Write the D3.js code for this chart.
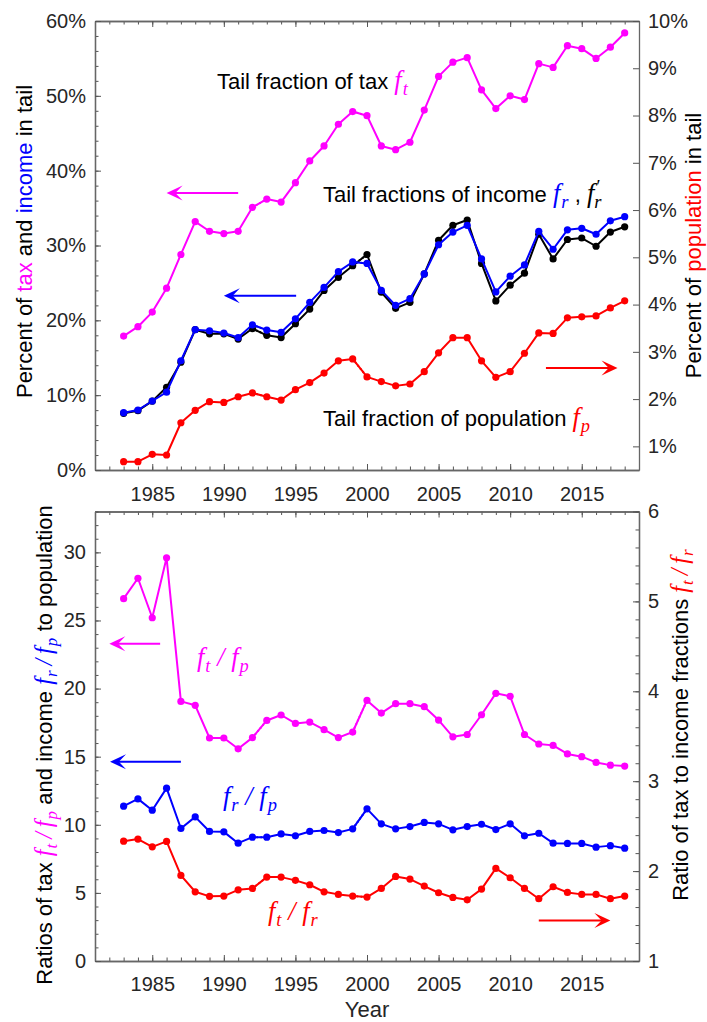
<!DOCTYPE html>
<html>
<head>
<meta charset="utf-8">
<script src="https://cdn.jsdelivr.net/npm/d3@7"></script>
<style>
  body { margin: 0; background: #fff; }
  text { font-family: "Liberation Sans", Arial, sans-serif; fill: #262626; }
  .math { font-family: "Liberation Serif", "Times New Roman", serif; font-style: italic; }
</style>
</head>
<body>
<svg></svg>
<script>
// chart data
const years = d3.range(1983, 2019);
const dottedFrom = [1992, 1999];   // links drawn dotted: 1992-1993 and 1999-2000

// top panel, percent
const fracTax = [17.9, 19.15, 21.1, 24.3, 28.8, 33.2, 31.9, 31.6, 31.9, 35.1, 36.2, 35.8, 38.4, 41.3, 43.3, 46.2, 47.9, 47.35,
  43.3, 42.8, 43.8, 48.1, 52.6, 54.5, 55.1, 50.8, 48.3, 50.0, 49.5, 54.3, 53.8, 56.7, 56.3, 55.0, 56.5, 58.4];
const fracIncome = [7.66, 8.02, 9.22, 10.4, 14.6, 18.75, 18.6, 18.3, 17.7, 19.4, 18.7, 18.4, 20.2, 22.4, 24.4, 26.5, 27.8, 27.6,
  24.0, 22.0, 22.9, 26.2, 30.1, 31.8, 32.7, 28.2, 23.8, 25.9, 27.4, 31.9, 29.5, 32.1, 32.3, 31.5, 33.3, 33.85];
const fracIncome2 = [7.57, 7.93, 9.2, 11.05, 14.4, 18.75, 18.2, 18.2, 17.5, 18.9, 18.0, 17.7, 19.55, 21.5, 24.0, 25.75, 27.3, 28.8,
  23.75, 21.6, 22.4, 26.2, 30.7, 32.7, 33.4, 27.6, 22.6, 24.7, 26.3, 31.5, 28.2, 30.8, 31.0, 29.9, 31.8, 32.5];
const fracPop = [0.676, 0.676, 0.832, 0.817, 1.50, 1.763, 1.945, 1.93, 2.05, 2.13, 2.05, 1.98, 2.20, 2.35, 2.55, 2.81, 2.85, 2.47,
  2.37, 2.28, 2.32, 2.58, 2.98, 3.30, 3.30, 2.81, 2.46, 2.58, 2.97, 3.40, 3.39, 3.72, 3.74, 3.76, 3.93, 4.08];

// bottom panel, ratios
const ratioTaxPop = [26.6, 28.1, 25.2, 29.6, 19.06, 18.77, 16.37, 16.37, 15.58, 16.4, 17.66, 18.06, 17.44, 17.54, 16.98, 16.4, 16.81, 19.13,
  18.2, 18.89, 18.89, 18.67, 17.69, 16.46, 16.63, 18.08, 19.65, 19.43, 16.63, 15.93, 15.83, 15.2, 15.0, 14.58, 14.38, 14.31];
const ratioIncPop = [11.37, 11.9, 11.07, 12.69, 9.73, 10.58, 9.51, 9.48, 8.65, 9.09, 9.09, 9.33, 9.19, 9.51, 9.58, 9.43, 9.7, 11.17,
  10.07, 9.7, 9.87, 10.17, 10.07, 9.63, 9.87, 10.04, 9.65, 10.07, 9.19, 9.38, 8.65, 8.63, 8.63, 8.36, 8.47, 8.28];
const ratioTaxInc = [2.333, 2.356, 2.27, 2.33, 1.952, 1.77, 1.719, 1.722, 1.792, 1.807, 1.933, 1.933, 1.897, 1.848, 1.77, 1.741, 1.722, 1.711,
  1.807, 1.941, 1.911, 1.833, 1.759, 1.707, 1.681, 1.8, 2.03, 1.926, 1.807, 1.693, 1.826, 1.763, 1.741, 1.741, 1.693, 1.722];

const xTicks = [1985, 1990, 1995, 2000, 2005, 2010, 2015];
const topLeftTicks = [0, 10, 20, 30, 40, 50, 60];
const topRightTicks = [1, 2, 3, 4, 5, 6, 7, 8, 9, 10];
const botLeftTicks = [0, 5, 10, 15, 20, 25, 30];
const botRightTicks = [1, 2, 3, 4, 5, 6];

const MAGENTA = "#ff00ff", BLUE = "#0000ff", RED = "#ff0000", BLACK = "#000000";

let width = 707, height = 1022;
const svg = d3.select("svg").attr("width", width).attr("height", height);

const left = 95, right = 639;
const x = d3.scaleLinear().domain([1981, 2019]).range([left, right]);

const panels = [
  { top: 21, bottom: 470, ldom: [0, 60], rdom: [0.5, 10] },
  { top: 511.5, bottom: 961, ldom: [0, 33], rdom: [1, 6] }
];
panels.forEach(p => {
  p.yl = d3.scaleLinear().domain(p.ldom).range([p.bottom, p.top]);
  p.yr = d3.scaleLinear().domain(p.rdom).range([p.bottom, p.top]);
});
const P1 = panels[0], P2 = panels[1];

// axes
function styleAxis(g) {
  g.select(".domain").attr("stroke", "#666").attr("stroke-width", 1.3);
  g.selectAll(".tick line").attr("stroke", "#555").attr("stroke-width", 1);
  g.selectAll("text").attr("fill", "#262626").attr("font-size", 20)
    .attr("font-family", "Liberation Sans, Arial, sans-serif");
}

function drawFrame(p, opt) {
  const minorYears = d3.range(1981, 2020);
  // bottom
  svg.append("g").attr("transform", `translate(0,${p.bottom})`)
    .call(d3.axisBottom(x).tickValues(minorYears).tickSize(-3.5).tickSizeOuter(0).tickFormat(""))
    .call(styleAxis);
  svg.append("g").attr("transform", `translate(0,${p.bottom})`)
    .call(d3.axisBottom(x).tickValues(xTicks).tickSize(-6).tickSizeOuter(0).tickPadding(opt.xpad).tickFormat(d3.format("d")))
    .call(styleAxis);
  // top
  svg.append("g").attr("transform", `translate(0,${p.top})`)
    .call(d3.axisTop(x).tickValues(minorYears).tickSize(-3.5).tickSizeOuter(0).tickFormat(""))
    .call(styleAxis);
  svg.append("g").attr("transform", `translate(0,${p.top})`)
    .call(d3.axisTop(x).tickValues(xTicks).tickSize(-6).tickSizeOuter(0).tickFormat(""))
    .call(styleAxis);
  // left
  svg.append("g").attr("transform", `translate(${left},0)`)
    .call(d3.axisLeft(p.yl).tickValues(opt.lMinor).tickSize(-3.5).tickSizeOuter(0).tickFormat(""))
    .call(styleAxis);
  svg.append("g").attr("transform", `translate(${left},0)`)
    .call(d3.axisLeft(p.yl).tickValues(opt.lTicks).tickSize(-6).tickSizeOuter(0).tickPadding(9).tickFormat(opt.lFmt))
    .call(styleAxis);
  // right
  if (opt.rMinor) {
    svg.append("g").attr("transform", `translate(${right},0)`)
      .call(d3.axisRight(p.yr).tickValues(opt.rMinor).tickSize(-3.5).tickSizeOuter(0).tickFormat(""))
      .call(styleAxis);
  }
  svg.append("g").attr("transform", `translate(${right},0)`)
    .call(d3.axisRight(p.yr).tickValues(opt.rTicks).tickSize(-6).tickSizeOuter(0).tickPadding(9).tickFormat(opt.rFmt))
    .call(styleAxis);
}

drawFrame(P1, {
  xpad: 17,
  lMinor: d3.range(0, 61, 2), lTicks: topLeftTicks, lFmt: d => d + "%",
  rMinor: null, rTicks: topRightTicks, rFmt: d => d + "%"
});
drawFrame(P2, {
  xpad: 16,
  lMinor: d3.range(0, 34, 1), lTicks: botLeftTicks, lFmt: d3.format("d"),
  rMinor: d3.range(1, 6.01, 0.2), rTicks: botRightTicks, rFmt: d3.format("d")
});

// series with dotted links at the data breaks
function drawSeries(yScale, values, color) {
  const pts = years.map((yr, i) => [x(yr), yScale(values[i]), yr]);
  const line = d3.line();
  let run = [];
  const runs = [];
  pts.forEach((pt, i) => {
    run.push(pt);
    if (dottedFrom.includes(pt[2]) || i === pts.length - 1) { runs.push(run); run = [pt]; }
  });
  runs.forEach(r => {
    if (r.length > 1) svg.append("path").attr("d", line(r.map(d => [d[0], d[1]])))
      .attr("fill", "none").attr("stroke", color).attr("stroke-width", 2).attr("stroke-linejoin", "round");
  });
  pts.forEach((pt, i) => {
    if (dottedFrom.includes(pt[2]) && i < pts.length - 1) {
      svg.append("path").attr("d", line([[pt[0], pt[1]], [pts[i + 1][0], pts[i + 1][1]]]))
        .attr("fill", "none").attr("stroke", color).attr("stroke-width", 2)
        .attr("stroke-dasharray", "1.5,2.5");
    }
  });
  svg.append("g").selectAll("circle").data(pts).enter().append("circle")
    .attr("cx", d => d[0]).attr("cy", d => d[1]).attr("r", 3.6).attr("fill", color);
}

drawSeries(P1.yl, fracTax, MAGENTA);
drawSeries(P1.yl, fracIncome2, BLACK);
drawSeries(P1.yl, fracIncome, BLUE);
drawSeries(P1.yr, fracPop, RED);

drawSeries(P2.yl, ratioTaxPop, MAGENTA);
drawSeries(P2.yl, ratioIncPop, BLUE);
drawSeries(P2.yr, ratioTaxInc, RED);

// arrows pointing to the axis each series uses
function arrow(x0, x1, y, color) {
  const dir = Math.sign(x1 - x0);
  const L = 16, W = 7.5;
  svg.append("line").attr("x1", x0).attr("x2", x1 - dir * 8).attr("y1", y).attr("y2", y)
    .attr("stroke", color).attr("stroke-width", 2);
  svg.append("path")
    .attr("d", `M${x1},${y} L${x1 - dir * L},${y - W} L${x1 - dir * L * 0.55},${y} L${x1 - dir * L},${y + W} Z`)
    .attr("fill", color);
}
arrow(x(1991), x(1986), P1.yl(37.0), MAGENTA);
arrow(x(1995.05), x(1990), P1.yl(23.3), BLUE);
arrow(x(2012.5), x(2017.5), P1.yr(2.66), RED);
arrow(x(1985.55), x(1982), P2.yl(23.3), MAGENTA);
arrow(x(1987), x(1982.05), P2.yl(14.63), BLUE);
arrow(x(2012), x(2017), P2.yr(1.45), RED);

// text with inline math pieces
function rich(t, parts, ms, slash) {
  parts.forEach(p => {
    if (p.m) {
      // p.m = base letter, p.sub = subscript, p.prime = bool
      t.append("tspan").attr("class", "math").attr("font-size", ms).style("fill", p.c).text(p.m);
      if (p.prime) {
        t.append("tspan").attr("class", "math").attr("font-size", ms * 0.72).attr("dx", 1)
          .attr("dy", -ms * 0.34).style("fill", p.c).text("\u2032");
        t.append("tspan").attr("class", "math").attr("font-size", ms * 0.7).attr("dx", -ms * 0.2)
          .attr("dy", ms * 0.56).style("fill", p.c).text(p.sub);
      } else {
        t.append("tspan").attr("class", "math").attr("font-size", ms * 0.7).attr("dx", 1).attr("dy", ms * 0.22)
          .style("fill", p.c).text(p.sub);
      }
      t.append("tspan").attr("font-size", ms * 0.1).attr("dy", -ms * 0.22).text("\u200a");
    } else if (p.slash) {
      t.append("tspan").attr("class", "math").attr("font-size", ms).style("fill", p.c).text(slash);
    } else {
      t.append("tspan").style("fill", p.c || "#000").text(p.t);
    }
  });
  return t;
}

function label(xp, yp, parts, size, rotate) {
  const t = svg.append("text").attr("font-size", size);
  if (rotate) {
    t.attr("transform", `translate(${xp},${yp}) rotate(-90)`).attr("text-anchor", "middle");
    return rich(t, parts, size * 1.1, "\u2009/\u2009");
  }
  t.attr("x", xp).attr("y", yp);
  return rich(t, parts, size * 1.2, " / ");
}

// top panel annotations
label(217, 89, [{ t: "Tail fraction of tax " }, { m: "f", sub: "t", c: MAGENTA }], 22);
label(323, 202, [{ t: "Tail fractions of income " }, { m: "f", sub: "r", c: BLUE }, { t: " , " },
  { m: "f", sub: "r", prime: true, c: BLACK }], 22);
label(323, 426, [{ t: "Tail fraction of population " }, { m: "f", sub: "p", c: RED }], 22);

// bottom panel annotations
label(197, 666, [{ m: "f", sub: "t", c: MAGENTA }, { slash: true, c: MAGENTA }, { m: "f", sub: "p", c: MAGENTA }], 22);
label(223, 805, [{ m: "f", sub: "r", c: BLUE }, { slash: true, c: BLUE }, { m: "f", sub: "p", c: BLUE }], 22);
label(268, 920, [{ m: "f", sub: "t", c: RED }, { slash: true, c: RED }, { m: "f", sub: "r", c: RED }], 22);

// axis titles
const c1 = (P1.top + P1.bottom) / 2;
label(32, c1 - 4, [{ t: "Percent of " }, { t: "tax", c: MAGENTA }, { t: " and " }, { t: "income", c: BLUE }, { t: " in tail" }], 22, true);
label(701, c1, [{ t: "Percent of " }, { t: "population", c: RED }, { t: " in tail" }], 22, true);
label(52, 745, [{ t: "Ratios of tax " }, { m: "f", sub: "t", c: MAGENTA }, { slash: true, c: MAGENTA }, { m: "f", sub: "p", c: MAGENTA },
  { t: " and income " }, { m: "f", sub: "r", c: BLUE }, { slash: true, c: BLUE }, { m: "f", sub: "p", c: BLUE }, { t: " to population" }], 22, true);
label(688, 725, [{ t: "Ratio of tax to income fractions " }, { m: "f", sub: "t", c: RED }, { slash: true, c: RED }, { m: "f", sub: "r", c: RED }], 22, true);

svg.append("text").attr("x", (left + right) / 2).attr("y", 1017).attr("text-anchor", "middle")
  .attr("font-size", 22).text("Year");
</script>
</body>
</html>
